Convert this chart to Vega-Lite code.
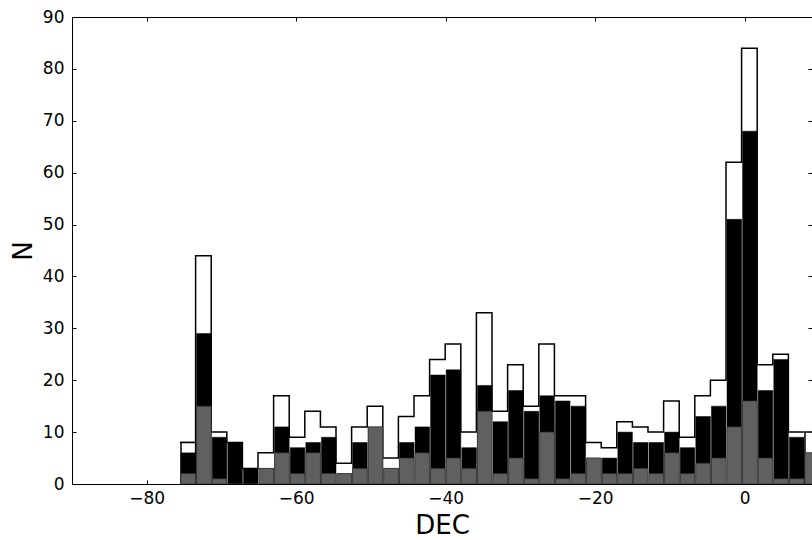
{
  "$schema": "https://vega.github.io/schema/vega-lite/v6.json",
  "width": 740,
  "height": 467,
  "autosize": {"type": "none"},
  "padding": {"left": 72, "top": 17, "right": 0, "bottom": 56},
  "background": "white",
  "config": {
    "view": {"stroke": null},
    "font": "DejaVu Sans",
    "axis": {
      "grid": false,
      "domainColor": "black",
      "domainWidth": 1,
      "tickColor": "black",
      "tickWidth": 1,
      "tickSize": -4,
      "labelColor": "black",
      "labelFont": "DejaVu Sans",
      "labelFontSize": 17,
      "labelFlush": false,
      "labelOverlap": false,
      "titleColor": "black",
      "titleFont": "DejaVu Sans",
      "titleFontSize": 26,
      "titleFontWeight": "normal"
    }
  },
  "datasets": {
    "bins": [
      {"bin": 0, "x0": -75.55, "x1": -73.463, "total": 8, "black": 6, "gray": 2},
      {"bin": 1, "x0": -73.463, "x1": -71.376, "total": 44, "black": 29, "gray": 15},
      {"bin": 2, "x0": -71.376, "x1": -69.289, "total": 10, "black": 9, "gray": 1},
      {"bin": 3, "x0": -69.289, "x1": -67.202, "total": 8, "black": 8, "gray": 0},
      {"bin": 4, "x0": -67.202, "x1": -65.115, "total": 3, "black": 3, "gray": 0},
      {"bin": 5, "x0": -65.115, "x1": -63.028, "total": 6, "black": 3, "gray": 3},
      {"bin": 6, "x0": -63.028, "x1": -60.941, "total": 17, "black": 11, "gray": 6},
      {"bin": 7, "x0": -60.941, "x1": -58.854, "total": 9, "black": 7, "gray": 2},
      {"bin": 8, "x0": -58.854, "x1": -56.767, "total": 14, "black": 8, "gray": 6},
      {"bin": 9, "x0": -56.767, "x1": -54.68, "total": 11, "black": 9, "gray": 2},
      {"bin": 10, "x0": -54.68, "x1": -52.593, "total": 4, "black": 2, "gray": 2},
      {"bin": 11, "x0": -52.593, "x1": -50.506, "total": 11, "black": 8, "gray": 3},
      {"bin": 12, "x0": -50.506, "x1": -48.419, "total": 15, "black": 11, "gray": 11},
      {"bin": 13, "x0": -48.419, "x1": -46.332, "total": 5, "black": 3, "gray": 3},
      {"bin": 14, "x0": -46.332, "x1": -44.245, "total": 13, "black": 8, "gray": 5},
      {"bin": 15, "x0": -44.245, "x1": -42.158, "total": 17, "black": 11, "gray": 6},
      {"bin": 16, "x0": -42.158, "x1": -40.071, "total": 24, "black": 21, "gray": 3},
      {"bin": 17, "x0": -40.071, "x1": -37.984, "total": 27, "black": 22, "gray": 5},
      {"bin": 18, "x0": -37.984, "x1": -35.897, "total": 10, "black": 7, "gray": 3},
      {"bin": 19, "x0": -35.897, "x1": -33.81, "total": 33, "black": 19, "gray": 14},
      {"bin": 20, "x0": -33.81, "x1": -31.723, "total": 14, "black": 12, "gray": 2},
      {"bin": 21, "x0": -31.723, "x1": -29.636, "total": 23, "black": 18, "gray": 5},
      {"bin": 22, "x0": -29.636, "x1": -27.549, "total": 15, "black": 14, "gray": 1},
      {"bin": 23, "x0": -27.549, "x1": -25.462, "total": 27, "black": 17, "gray": 10},
      {"bin": 24, "x0": -25.462, "x1": -23.375, "total": 17, "black": 16, "gray": 1},
      {"bin": 25, "x0": -23.375, "x1": -21.288, "total": 17, "black": 15, "gray": 2},
      {"bin": 26, "x0": -21.288, "x1": -19.201, "total": 8, "black": 5, "gray": 5},
      {"bin": 27, "x0": -19.201, "x1": -17.114, "total": 7, "black": 5, "gray": 2},
      {"bin": 28, "x0": -17.114, "x1": -15.027, "total": 12, "black": 10, "gray": 2},
      {"bin": 29, "x0": -15.027, "x1": -12.94, "total": 11, "black": 8, "gray": 3},
      {"bin": 30, "x0": -12.94, "x1": -10.853, "total": 10, "black": 8, "gray": 2},
      {"bin": 31, "x0": -10.853, "x1": -8.766, "total": 16, "black": 10, "gray": 6},
      {"bin": 32, "x0": -8.766, "x1": -6.679, "total": 9, "black": 7, "gray": 2},
      {"bin": 33, "x0": -6.679, "x1": -4.592, "total": 17, "black": 13, "gray": 4},
      {"bin": 34, "x0": -4.592, "x1": -2.505, "total": 20, "black": 15, "gray": 5},
      {"bin": 35, "x0": -2.505, "x1": -0.418, "total": 62, "black": 51, "gray": 11},
      {"bin": 36, "x0": -0.418, "x1": 1.669, "total": 84, "black": 68, "gray": 16},
      {"bin": 37, "x0": 1.669, "x1": 3.756, "total": 23, "black": 18, "gray": 5},
      {"bin": 38, "x0": 3.756, "x1": 5.843, "total": 25, "black": 24, "gray": 1},
      {"bin": 39, "x0": 5.843, "x1": 7.93, "total": 10, "black": 9, "gray": 1},
      {"bin": 40, "x0": 7.93, "x1": 10.017, "total": 10, "black": 6, "gray": 6}
    ]
  },
  "data": {"name": "bins"},
  "resolve": {"axis": {"x": "independent", "y": "independent"}},
  "layer": [
    {
      "mark": {"type": "line", "color": "black", "strokeWidth": 1.5, "clip": true, "interpolate": "step-after"},
      "encoding": {
        "x": {
          "field": "x0", "type": "quantitative",
          "scale": {"domain": [-90, 9], "nice": false, "zero": false},
          "axis": {"orient": "bottom", "values": [-80, -60, -40, -20, 0], "format": "d", "labelPadding": 10, "title": "DEC", "titlePadding": 6}
        },
        "y": {
          "field": "total", "type": "quantitative",
          "scale": {"domain": [0, 90], "nice": false},
          "axis": {"orient": "left", "values": [0, 10, 20, 30, 40, 50, 60, 70, 80, 90], "format": "d", "labelPadding": 12, "title": "N", "titlePadding": 6}
        }
      }
    },
    {
      "transform": [{"filter": {"field": "bin", "oneOf": [0, 40]}}],
      "mark": {"type": "bar", "fill": "white", "stroke": "black", "strokeWidth": 1.5, "clip": true},
      "encoding": {
        "x": {"field": "x0", "type": "quantitative", "bin": "binned", "axis": null},
        "x2": {"field": "x1"},
        "y": {"field": "total", "type": "quantitative", "axis": null}
      }
    },
    {
      "mark": {"type": "bar", "fill": "black", "stroke": "black", "strokeWidth": 0.5, "clip": true},
      "encoding": {
        "x": {
          "field": "x0", "type": "quantitative", "bin": "binned",
          "axis": {"orient": "top", "values": [-80, -60, -40, -20, 0], "labels": false, "title": null}
        },
        "x2": {"field": "x1"},
        "y": {
          "field": "black", "type": "quantitative",
          "axis": {"orient": "right", "values": [0, 10, 20, 30, 40, 50, 60, 70, 80, 90], "labels": false, "domain": false, "title": null}
        }
      }
    },
    {
      "mark": {"type": "bar", "fill": "#606060", "stroke": "#333333", "strokeWidth": 0.6, "clip": true},
      "encoding": {
        "x": {"field": "x0", "type": "quantitative", "bin": "binned", "axis": null},
        "x2": {"field": "x1"},
        "y": {"field": "gray", "type": "quantitative", "axis": null}
      }
    }
  ]
}
